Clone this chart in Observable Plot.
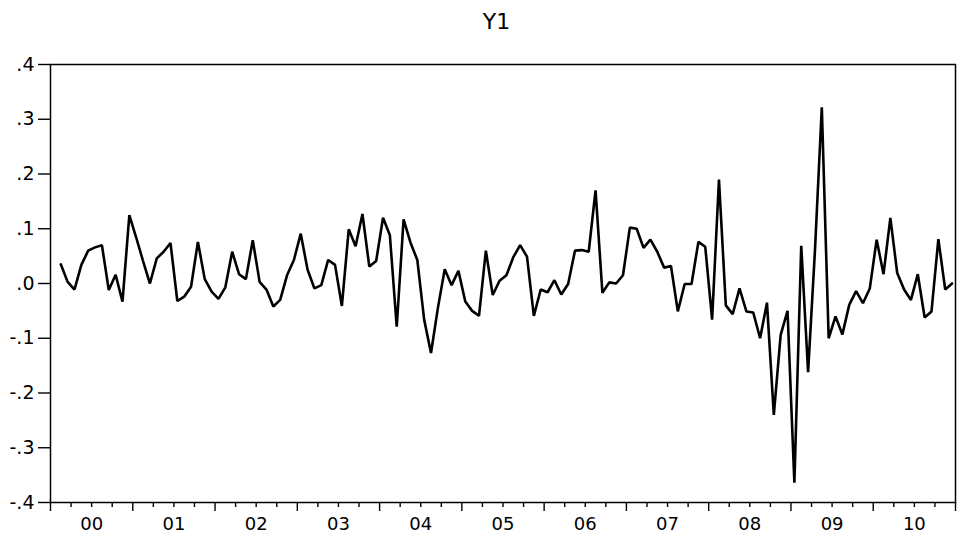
<!DOCTYPE html>
<html>
<head>
<meta charset="utf-8">
<script src="https://cdn.jsdelivr.net/npm/d3@7"></script>
<script src="https://cdn.jsdelivr.net/npm/@observablehq/plot@0.6"></script>
<style>
  body { margin: 0; background: #fff; font-family: "DejaVu Sans", "Liberation Sans", Arial, sans-serif; }
  #title { position: relative; width: 960px; height: 46px; }
  #title span { position: absolute; left: 44px; width: 905px; top: 9px; line-height: 26px; text-align: center; font-size: 22px; color: #000; }
</style>
</head>
<body>
<div id="title"><span>Y1</span></div>
<div id="chart"></div>
<script>
// Monthly series Y1, 2000M02 - 2010M12
const title = "Y1";
const startYear = 2000;
const startMonth = 2;
const y2000 = [0.035, 0.003, -0.011, 0.034, 0.060, 0.066, 0.070, -0.012, 0.016, -0.033, 0.125];
const y2001 = [0.084, 0.041, 0.000, 0.046, 0.058, 0.074, -0.032, -0.024, -0.006, 0.076, 0.008, -0.015];
const y2002 = [-0.028, -0.007, 0.058, 0.017, 0.008, 0.079, 0.003, -0.011, -0.042, -0.030, 0.015, 0.043];
const y2003 = [0.091, 0.025, -0.009, -0.003, 0.043, 0.034, -0.041, 0.099, 0.068, 0.127, 0.031, 0.041];
const y2004 = [0.120, 0.088, -0.079, 0.117, 0.075, 0.043, -0.066, -0.127, -0.045, 0.026, -0.003, 0.023];
const y2005 = [-0.033, -0.050, -0.059, 0.060, -0.021, 0.005, 0.015, 0.048, 0.070, 0.049, -0.059, -0.011];
const y2006 = [-0.016, 0.006, -0.020, -0.001, 0.060, 0.061, 0.058, 0.170, -0.017, 0.002, 0.000, 0.015];
const y2007 = [0.102, 0.100, 0.065, 0.080, 0.058, 0.029, 0.032, -0.051, -0.001, -0.001, 0.076, 0.067];
const y2008 = [-0.066, 0.190, -0.040, -0.056, -0.009, -0.051, -0.053, -0.100, -0.035, -0.240, -0.094, -0.050];
const y2009 = [-0.364, 0.069, -0.162, 0.060, 0.322, -0.100, -0.060, -0.093, -0.039, -0.014, -0.036, -0.009];
const y2010 = [0.080, 0.017, 0.120, 0.019, -0.011, -0.030, 0.017, -0.062, -0.051, 0.081, -0.011, 0.000];

const yearLabels = ["00", "01", "02", "03", "04", "05", "06", "07", "08", "09", "10"];
const yTicks = [-0.4, -0.3, -0.2, -0.1, 0.0, 0.1, 0.2, 0.3, 0.4];

const values = [].concat(y2000, y2001, y2002, y2003, y2004, y2005, y2006, y2007, y2008, y2009, y2010);
const data = values.map((v, i) => ({ t: startYear + (startMonth - 1 + i + 0.5) / 12, v }));

const endYear = startYear + yearLabels.length;
const yearTicks = d3.range(startYear, endYear + 1);
const quarterTicks = d3.range(startYear, endYear).flatMap(y => [y + 0.25, y + 0.5, y + 0.75]);
const midYears = d3.range(startYear, endYear).map(y => y + 0.5);

const fmtY = d => d.toFixed(1).replace("0.", ".");
const font = '"DejaVu Sans", "Liberation Sans", Arial, sans-serif';

const chart = Plot.plot({
  width: 960,
  height: 491,
  marginTop: 18,
  marginBottom: 35,
  marginLeft: 50,
  marginRight: 5,
  x: { domain: [startYear, endYear], label: null },
  y: { domain: [-0.4, 0.4], label: null },
  style: { fontFamily: font, fontSize: "19px", color: "#000", background: "#fff" },
  marks: [
    Plot.axisY(yTicks, { tickSize: 12, tickPadding: 4, tickFormat: fmtY, fontSize: 19, fontFamily: font, strokeWidth: 1.4, label: null }),
    Plot.axisX(yearTicks, { tickSize: 9, tickFormat: () => "", strokeWidth: 1.4, label: null }),
    Plot.axisX(quarterTicks, { tickSize: 5, tickFormat: () => "", strokeWidth: 1.4, label: null }),
    Plot.axisX(midYears, { tickSize: 0, tickPadding: 15, tickFormat: d => yearLabels[Math.floor(d) - startYear], fontSize: 18, fontFamily: font, label: null }),
    Plot.frame({ stroke: "#000", strokeWidth: 1.5 }),
    Plot.line(data, { x: "t", y: "v", stroke: "#000", strokeWidth: 2.6, strokeLinejoin: "miter" })
  ]
});
document.getElementById("chart").appendChild(chart);
</script>
</body>
</html>
